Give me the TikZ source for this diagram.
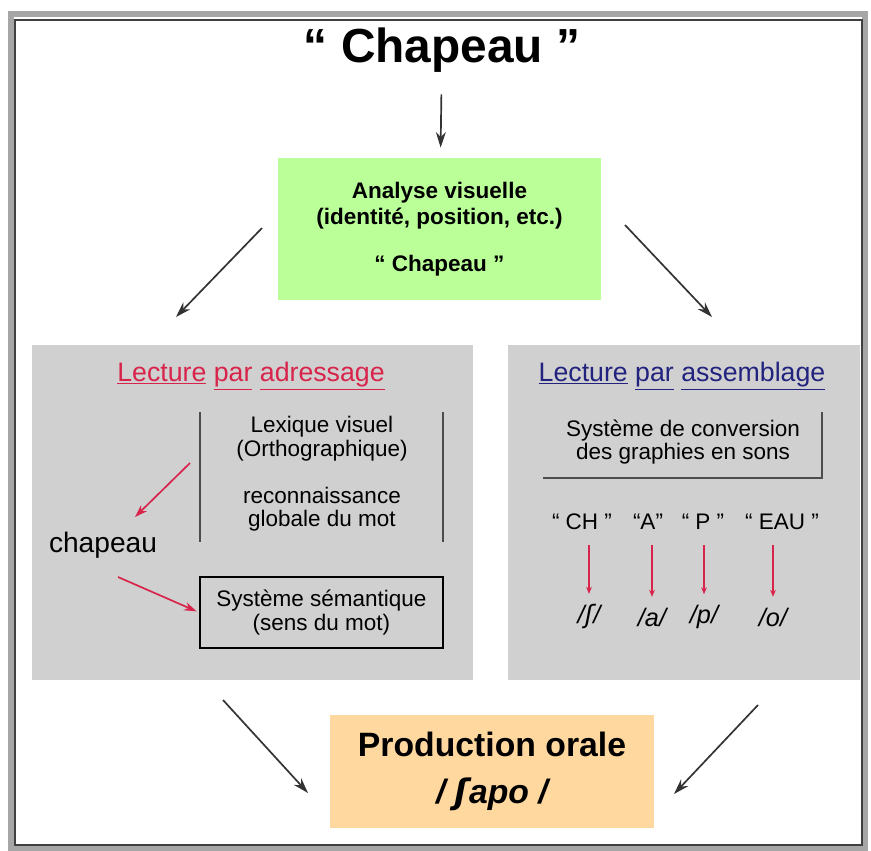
\documentclass[tikz,border=0pt]{standalone}
\usepackage{fontspec}
\setmainfont{Liberation Sans}
\newfontfamily\ipafont{DejaVu Sans}
\usetikzlibrary{arrows.meta}
\definecolor{vertclair}{HTML}{BBFF99}
\definecolor{orangeclair}{HTML}{FFD8A0}
\definecolor{grisfond}{HTML}{D0D0D0}
\definecolor{rougelect}{HTML}{D8234A}
\definecolor{bleulect}{HTML}{22227F}
\newcommand{\gristxt}{\fontsize{16}{17}\selectfont}

\begin{document}
\begin{tikzpicture}[x=0.025cm,y=-0.025cm,thick,
	fleche/.style={-{Stealth[length=11pt,width=7pt]},line width=1.2pt,black!80},
	flecherouge/.style={-{Stealth[length=9pt,width=6pt]},line width=1.2pt,rougelect},
	flechefine/.style={-{Stealth[length=5pt,width=4pt]},line width=0.9pt,rougelect},
	lettres/.style={font=\gristxt},
	phoneme/.style={font=\itshape\fontsize{18}{20}\selectfont}]
	\useasboundingbox (0,0) rectangle (871,851);
	\fill[white] (0,0) rectangle (871,851);
	\draw[line width=4pt,black!35] (11,14) rectangle (865,848);
	\draw[line width=1pt,black!75] (15,20) rectangle (862,845);

	\node[font=\bfseries\fontsize{34}{40}\selectfont] (titre) at (442,50) {“ Chapeau ”};
	\node[fill=vertclair,minimum width=8.075cm,minimum height=3.55cm,align=center,font=\bfseries\fontsize{16}{19}\selectfont] (visuel) at (439.5,229) {Analyse visuelle\\(identité, position, etc.)\\[14pt]“ Chapeau ”};
	\draw[fleche,shorten <=12pt,shorten >=7pt] (titre) -- (visuel);

	\node[fill=grisfond,minimum width=11.025cm,minimum height=8.375cm] (adressage) at (252.5,512.5) {};
	\node[fill=grisfond,minimum width=8.8cm,minimum height=8.375cm] (assemblage) at (684,512.5) {};
	\coordinate (va) at (262,228);
	\coordinate (vb) at (176,317);
	\coordinate (vc) at (625,225);
	\coordinate (vd) at (712,317);
	\draw[fleche] (va) -- (vb);
	\draw[fleche] (vc) -- (vd);

	\node[text=rougelect,font=\fontsize{19}{22}\selectfont] (titreadr) at (251,376) {\underline{Lecture} \underline{par} \underline{adressage}};
	\node[align=center,font=\gristxt] (lexique) at (322,474) {Lexique visuel\\(Orthographique)\\[16pt]reconnaissance\\globale du mot};
	\draw[line width=1pt,black!70] (200,412) -- (200,542);
	\draw[line width=1pt,black!70] (443,412) -- (443,542);
	\node[font=\fontsize{20}{24}\selectfont] (chapeau) at (103,545) {chapeau};
	\node[draw,line width=1pt,minimum width=6.075cm,minimum height=1.775cm,align=center,font=\gristxt] (semantique) at (321.5,612.5) {Système sémantique\\(sens du mot)};
	\coordinate (ra) at (190,463);
	\coordinate (rb) at (135,517);
	\coordinate (rc) at (118,577);
	\draw[flecherouge] (ra) -- (rb);
	\draw[flecherouge,shorten >=2pt] (rc) -- (semantique.west);

	\node[text=bleulect,font=\fontsize{19}{22}\selectfont] (titreass) at (682,376) {\underline{Lecture} \underline{par} \underline{assemblage}};
	\node[align=center,font=\gristxt] (conversion) at (683,442) {Système de conversion\\des graphies en sons};
	\draw[line width=1pt,black!70] (543,478) -- (822,478) -- (822,412);

	\node[lettres] (ch) at (582,522) {“ CH ”};
	\node[lettres] (a) at (648,522) {“A”};
	\node[lettres] (p) at (703,522) {“ P ”};
	\node[lettres] (eau) at (782,522) {“ EAU ”};
	\node[phoneme] (sh) at (589,617) {/{\ipafont\itshape ʃ}/};
	\node[phoneme] (aa) at (652,617) {/a/};
	\node[phoneme] (pp) at (704,617) {/p/};
	\node[phoneme] (oo) at (773,617) {/o/};
	\draw[flechefine,shorten <=7pt,shorten >=4pt] (sh |- ch.south) -- (sh.north);
	\draw[flechefine,shorten <=7pt,shorten >=4pt] (aa |- a.south) -- (aa.north);
	\draw[flechefine,shorten <=7pt,shorten >=4pt] (pp |- p.south) -- (pp.north);
	\draw[flechefine,shorten <=7pt,shorten >=4pt] (oo |- eau.south) -- (oo.north);

	\node[fill=orangeclair,minimum width=8.1cm,minimum height=2.825cm,align=center,font=\bfseries\fontsize{24}{33}\selectfont] (production) at (492,771.5) {Production orale\\\itshape / {\ipafont\bfseries\itshape ʃ}apo /};
	\coordinate (ba) at (223,700);
	\coordinate (bb) at (308,793);
	\coordinate (bc) at (758,705);
	\coordinate (bd) at (674,794);
	\draw[fleche] (ba) -- (bb);
	\draw[fleche] (bc) -- (bd);
\end{tikzpicture}
\end{document}
